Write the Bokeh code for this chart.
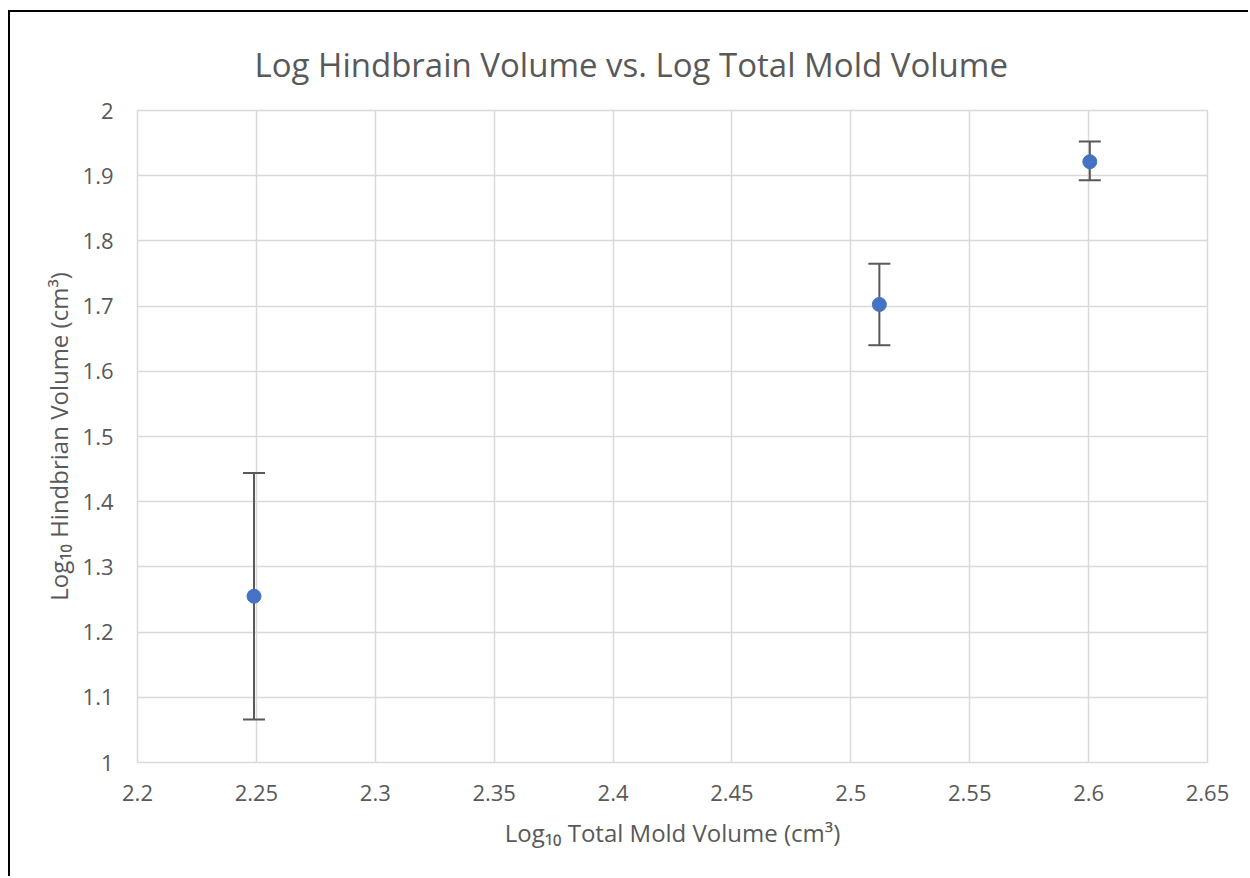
from bokeh.plotting import figure
from bokeh.models import ColumnDataSource, Whisker, FixedTicker, Range1d
from bokeh.embed import file_html
from bokeh.resources import INLINE

# Data
title_text = "Log Hindbrain Volume vs. Log Total Mold Volume"
log_mold = [2.249, 2.512, 2.6005]
log_hind = [1.255, 1.7025, 1.9215]
err_low = [1.066, 1.640, 1.893]
err_high = [1.444, 1.765, 1.9525]
x_ticks = [2.2, 2.25, 2.3, 2.35, 2.4, 2.45, 2.5, 2.55, 2.6, 2.65]
y_ticks = [1, 1.1, 1.2, 1.3, 1.4, 1.5, 1.6, 1.7, 1.8, 1.9, 2]

FONT = "Open Sans"
TXT = "#595959"
GRID = "#d9d9d9"

p = figure(width=1240, height=866, output_backend="svg", toolbar_location=None,
           x_range=Range1d(2.2, 2.65), y_range=Range1d(1, 2),
           min_border_left=127, min_border_right=43, min_border_top=98, min_border_bottom=116,
           title=title_text)
p.styles = {"border-left": "2px solid black", "border-top": "2px solid black",
            "margin-left": "8px", "margin-top": "10px"}

p.title.align = "left"
p.title.text_font = FONT
p.title.text_font_size = "33px"
p.title.text_font_style = "normal"
p.title.text_color = TXT
p.title.offset = 117
p.title.standoff = 48

p.outline_line_color = GRID
p.outline_line_width = 1.5

for ax in (p.xaxis, p.yaxis):
    ax.axis_line_color = None
    ax.major_tick_line_color = None
    ax.minor_tick_line_color = None
    ax.major_label_text_font = FONT
    ax.major_label_text_font_size = "22px"
    ax.major_label_text_color = TXT
    ax.axis_label_text_font = FONT
    ax.axis_label_text_font_size = "24px"
    ax.axis_label_text_font_style = "normal"
    ax.axis_label_text_color = TXT

p.xaxis.ticker = FixedTicker(ticks=x_ticks)
p.yaxis.ticker = FixedTicker(ticks=y_ticks)
p.xaxis.major_label_overrides = {t: f"{t:g}" for t in x_ticks}
p.yaxis.major_label_overrides = {t: f"{t:g}" for t in y_ticks}
p.xaxis.major_label_standoff = 16
p.yaxis.major_label_standoff = 18
p.xaxis.axis_label = "Log₁₀ Total Mold Volume (cm³)"
p.yaxis.axis_label = "Log₁₀ Hindbrian Volume (cm³)"
p.xaxis.axis_label_standoff = 12
p.yaxis.axis_label_standoff = 5

p.xgrid.grid_line_color = GRID
p.ygrid.grid_line_color = GRID
p.xgrid.grid_line_width = 1.5
p.ygrid.grid_line_width = 1.5

src = ColumnDataSource(dict(x=log_mold, y=log_hind, lo=err_low, hi=err_high))
w = Whisker(base="x", lower="lo", upper="hi", source=src, dimension="height",
            line_color="#595959", line_width=2)
w.upper_head.size = 22
w.lower_head.size = 22
w.upper_head.line_color = "#595959"
w.lower_head.line_color = "#595959"
w.upper_head.line_width = 2
w.lower_head.line_width = 2
p.add_layout(w)

p.scatter("x", "y", source=src, size=14, fill_color="#4472C4", line_color="#4472C4")

open("out.html", "w").write(file_html(p, INLINE))
